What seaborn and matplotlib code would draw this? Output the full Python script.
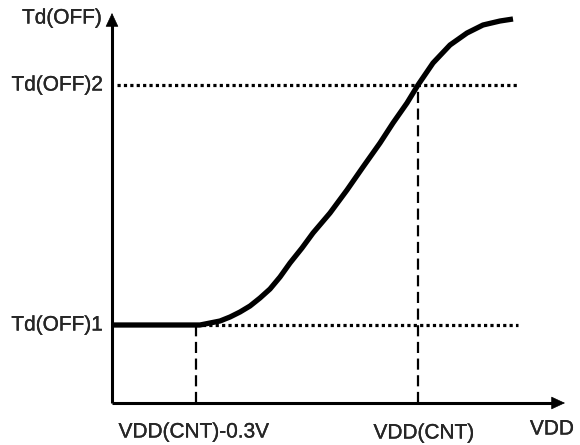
import matplotlib
matplotlib.use("Agg")
import matplotlib.pyplot as plt
import matplotlib.patheffects as pe
import seaborn as sns
import pandas as pd

# Data (abstract units: origin at the axes corner)
vdd = [0, 84, 88, 98, 108, 118, 128, 138, 148, 158, 168, 178, 190, 201, 218,
       235, 251, 268, 281, 295, 306, 321, 338, 355, 371, 388, 401]
td = [78, 78, 78, 80, 82, 86, 91, 97, 105, 114, 126, 140, 155, 170, 190,
      213, 236, 260, 280, 300, 318, 340, 358, 370, 378, 382, 384]

td_off1 = 78
td_off2 = 318
vdd_cnt_low = 84
vdd_cnt = 306
x_end = 406
x_axis_end = 453
y_axis_end = 390

y_labels = ["Td(OFF)", "Td(OFF)2", "Td(OFF)1"]
x_labels = ["VDD(CNT)-0.3V", "VDD(CNT)", "VDD"]

sns.set_style("white")
plt.rcParams["font.family"] = ["Liberation Sans", "DejaVu Sans"]

fig = plt.figure(figsize=(5.8, 4.45), dpi=100)
ax = fig.add_axes([0, 0, 1, 1])
ax.set_xlim(-112, 468)
ax.set_ylim(-42, 403)
ax.axis("off")

df = pd.DataFrame({"VDD": vdd, "Td": td})

# reference lines
ax.plot([5, x_end], [td_off2, td_off2], color="black", lw=2.3,
        linestyle=(0, (1, 1)))
ax.plot([vdd_cnt_low, x_end], [td_off1, td_off1], color="black", lw=2.3,
        linestyle=(0, (1, 1)))
ax.plot([vdd_cnt_low, vdd_cnt_low], [0, td_off1], color="black", lw=1.6,
        linestyle=(0, (5, 2.5)))
ax.plot([vdd_cnt, vdd_cnt], [0, td_off2], color="black", lw=1.6,
        linestyle=(0, (5, 2.5)))

# axes with arrows
ax.plot([0, x_axis_end - 10], [0, 0], color="black", lw=2.2, solid_capstyle="butt")
ax.plot([0, 0], [0, y_axis_end - 10], color="black", lw=2.2, solid_capstyle="butt")
ax.annotate("", xy=(x_axis_end, 0), xytext=(x_axis_end - 12, 0),
            arrowprops=dict(arrowstyle="-|>,head_length=0.9,head_width=0.42",
                            color="black", lw=0.5, shrinkA=0, shrinkB=0,
                            mutation_scale=10))
ax.annotate("", xy=(0, y_axis_end), xytext=(0, y_axis_end - 12),
            arrowprops=dict(arrowstyle="-|>,head_length=0.9,head_width=0.42",
                            color="black", lw=0.5, shrinkA=0, shrinkB=0,
                            mutation_scale=10))

# curve
sns.lineplot(data=df, x="VDD", y="Td", ax=ax, color="black", lw=3.8,
             sort=False, solid_capstyle="butt", solid_joinstyle="round")
if ax.get_legend():
    ax.get_legend().remove()
ax.axis("off")

fs = 15
eff = [pe.withStroke(linewidth=0.2, foreground="black")]
ax.text(-10, 385, y_labels[0], ha="right", va="center", fontsize=fs, path_effects=eff)
ax.text(-9, td_off2, y_labels[1], ha="right", va="center", fontsize=fs, path_effects=eff)
ax.text(-9, td_off1, y_labels[2], ha="right", va="center", fontsize=fs, path_effects=eff)
ax.text(vdd_cnt_low - 2, -29, x_labels[0], ha="center", va="center", fontsize=fs, path_effects=eff)
ax.text(vdd_cnt + 6, -30, x_labels[1], ha="center", va="center", fontsize=fs, path_effects=eff)
ax.text(vdd_cnt + 134, -26, x_labels[2], ha="center", va="center", fontsize=fs, path_effects=eff)

fig.savefig("out.png", dpi=100)
